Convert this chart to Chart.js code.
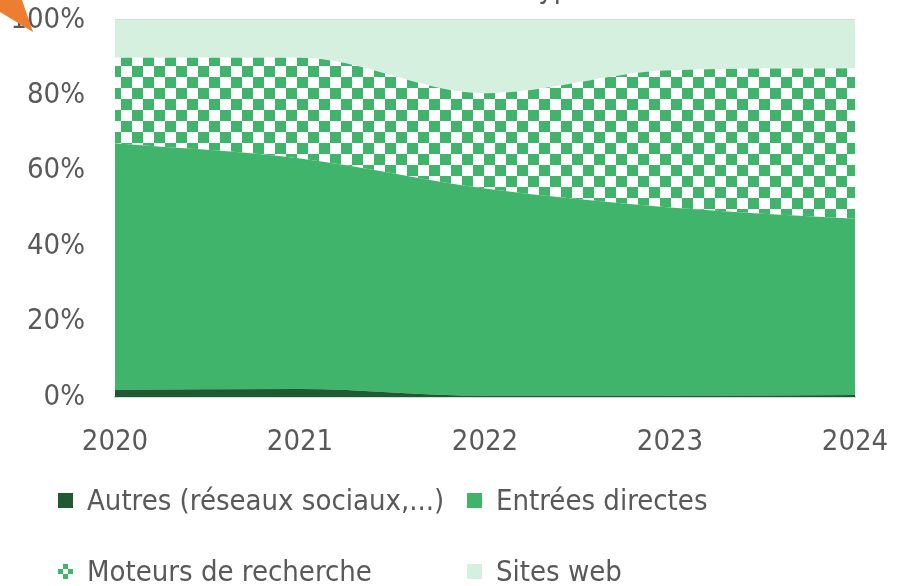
<!DOCTYPE html>
<html lang="fr">
<head>
<meta charset="utf-8">
<title>Visites par type d'entrée</title>
<script src="https://cdn.jsdelivr.net/npm/chart.js@4.4.1/dist/chart.umd.min.js"></script>
<style>
  html, body { margin: 0; padding: 0; background: #fff; overflow: hidden; }
  #wrap { position: relative; width: 897px; height: 586px; overflow: hidden; }
  #chart { position: absolute; left: 0; top: 0; }
  .txt { font-family: "DejaVu Sans Condensed", "Liberation Sans", sans-serif; color: #595959; font-size: 29px; }
  #title { position: absolute; top: -26px; white-space: nowrap; line-height: 29px; }
  #legend { position: absolute; left: 58px; top: 482px; display: grid;
            grid-template-columns: 409px auto; row-gap: 35px; }
  .item { display: flex; align-items: center; line-height: 36px; white-space: nowrap; }
  .box { width: 15px; height: 15px; margin-right: 14px; flex: none; }
</style>
</head>
<body>
<div id="wrap">
  <canvas id="chart" width="897" height="586"></canvas>
  <div id="title" class="txt">Visites selon le type d'entrée</div>
  <div id="legend" class="txt"></div>
</div>
<script>
// Data (parts en %)
const years = ['2020', '2021', '2022', '2023', '2024'];
const seriesNames = ['Autres (réseaux sociaux,...)', 'Entrées directes', 'Moteurs de recherche', 'Sites web'];
const autres = [2.0, 2.2, 0.4, 0.4, 0.6];
const entrees = [65.3, 61.1, 54.9, 49.9, 46.7];
const moteurs = [22.7, 26.7, 25.3, 36.4, 39.9];
const sites = [10.0, 10.0, 19.4, 13.3, 12.8];
const yTicks = [0, 20, 40, 60, 80, 100];

const FONT = '"DejaVu Sans Condensed", "Liberation Sans", sans-serif';
const FONT_SIZE = 29;
const GREEN = '#40B46B';
const DARK = '#1F5A33';
const LIGHT = '#D5F0DF';
const GREY = '#595959';

// checkerboard fill for "Moteurs de recherche"
function makeChecker() {
    const c = document.createElement('canvas');
    c.width = 22; c.height = 22;
    const g = c.getContext('2d');
    g.fillStyle = '#fff';
    g.fillRect(0, 0, 22, 22);
    g.fillStyle = GREEN;
    g.fillRect(0, 0, 11, 11);
    g.fillRect(11, 11, 11, 11);
    return c;
}

// orange arrow tip in the top-left corner
const arrowPlugin = {
    id: 'arrow',
    afterDraw(chart) {
        const ctx = chart.ctx;
        ctx.save();
        ctx.fillStyle = '#ED7D31';
        ctx.beginPath();
        ctx.moveTo(0, 0);
        ctx.lineTo(22, 0);
        ctx.lineTo(33, 32);
        ctx.lineTo(0, 12);
        ctx.closePath();
        ctx.fill();
        ctx.restore();
    }
};

function initChart() {
    const ctx = document.getElementById('chart').getContext('2d');
    const checker = ctx.createPattern(makeChecker(), 'repeat');
    const values = [autres, entrees, moteurs, sites];
    const fills = [DARK, GREEN, checker, LIGHT];

    const datasets = values.map((data, i) => ({
        label: seriesNames[i],
        data: data,
        backgroundColor: fills[i],
        borderWidth: 0,
        pointRadius: 0,
        fill: i === 0 ? 'origin' : '-1',
        cubicInterpolationMode: 'monotone'
    }));

    new Chart(ctx, {
        type: 'line',
        data: { labels: years, datasets: datasets },
        plugins: [arrowPlugin],
        options: {
            responsive: false,
            animation: false,
            layout: { padding: { left: 10, right: 42, top: 20, bottom: 106 } },
            plugins: { legend: { display: false }, tooltip: { enabled: false } },
            scales: {
                x: {
                    offset: false,
                    grid: { display: false },
                    border: { display: true, color: '#D9D9D9', width: 2 },
                    ticks: { color: GREY, font: { family: FONT, size: FONT_SIZE }, padding: 20, maxRotation: 0 },
                    afterFit: axis => { axis.paddingLeft = 0; axis.paddingRight = 0; }
                },
                y: {
                    stacked: true,
                    min: 0,
                    max: 100,
                    afterBuildTicks: axis => { axis.ticks = yTicks.map(v => ({ value: v })); },
                    afterFit: axis => { axis.width = 105; axis.paddingTop = 0; axis.paddingBottom = 0; },
                    grid: { color: '#D9D9D9', lineWidth: 2, drawTicks: false },
                    border: { display: false },
                    ticks: {
                        color: GREY,
                        font: { family: FONT, size: FONT_SIZE },
                        padding: 30,
                        callback: v => v + '%'
                    }
                }
            }
        }
    });
}

function buildLegend() {
    const legend = document.getElementById('legend');
    const boxStyles = [
        'background:' + DARK,
        'background:' + GREEN,
        'background: repeating-conic-gradient(' + GREEN + ' 0 25%, #fff 0 50%) 0 0 / 10px 10px',
        'background:' + LIGHT
    ];
    seriesNames.forEach((name, i) => {
        const item = document.createElement('div');
        item.className = 'item';
        const box = document.createElement('span');
        box.className = 'box';
        box.style.cssText = boxStyles[i];
        item.appendChild(box);
        item.appendChild(document.createTextNode(name));
        legend.appendChild(item);
    });
}

function placeTitle() {
    const m = document.createElement('canvas').getContext('2d');
    m.font = FONT_SIZE + 'px ' + FONT;
    const title = document.getElementById('title');
    title.style.left = (528 - m.measureText('Visites selon le ').width) + 'px';
}

initChart();
buildLegend();
placeTitle();
</script>
</body>
</html>
